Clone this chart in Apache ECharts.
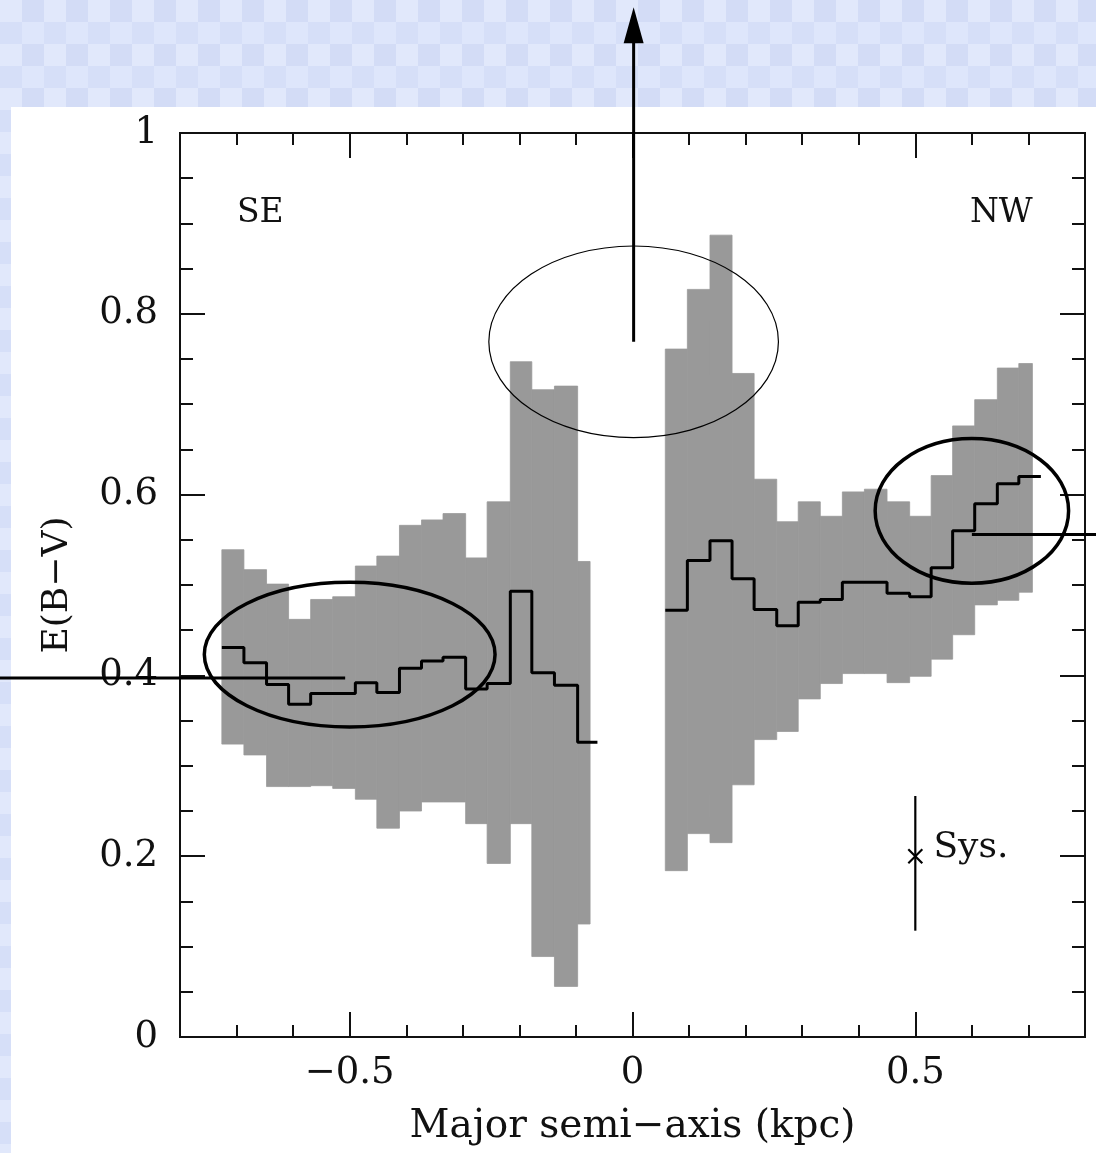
<!DOCTYPE html>
<html>
<head>
<meta charset="utf-8">
<script src="https://cdn.jsdelivr.net/npm/echarts@6/dist/echarts.min.js"></script>
<style>
  html, body { margin: 0; padding: 0; }
  #wrap { position: relative; width: 1096px; height: 1153px; overflow: hidden;
    background-color: #d8e1f8;
    background-image: conic-gradient(#d3dcf6 25%, #dee6fb 0 50%, #d6dff8 0 75%, #e1e8fb 0);
    background-size: 44px 44px; }
  #panel { position: absolute; left: 11px; top: 107px; width: 1085px; height: 1046px; background: #ffffff; }
  #chart { position: absolute; left: 0; top: 0; width: 1096px; height: 1153px; }
</style>
</head>
<body>
<div id="wrap"><div id="panel"></div><div id="chart"></div></div>
<script>
// ---- Data ----
// SE side (negative semi-axis): bin edges in kpc
const leftEdges = [-0.726, -0.687, -0.647, -0.608, -0.569, -0.530, -0.490, -0.452, -0.412, -0.373, -0.335, -0.295, -0.257, -0.216, -0.178, -0.138, -0.097, -0.062];
const leftBandEnd = -0.075;
const leftUpper = [0.539, 0.517, 0.501, 0.462, 0.484, 0.487, 0.521, 0.532, 0.566, 0.572, 0.579, 0.530, 0.592, 0.747, 0.716, 0.720, 0.526];
const leftLower = [0.324, 0.312, 0.277, 0.277, 0.278, 0.275, 0.263, 0.231, 0.250, 0.260, 0.260, 0.236, 0.192, 0.236, 0.089, 0.056, 0.125];
const leftMean  = [0.431, 0.414, 0.390, 0.368, 0.380, 0.380, 0.392, 0.381, 0.408, 0.416, 0.420, 0.385, 0.391, 0.493, 0.403, 0.389, 0.326];

// NW side (positive semi-axis)
const rightEdges = [0.058, 0.097, 0.137, 0.176, 0.215, 0.255, 0.293, 0.332, 0.371, 0.410, 0.450, 0.490, 0.528, 0.566, 0.605, 0.645, 0.683, 0.722];
const rightBandEnd = 0.707;
const rightUpper = [0.761, 0.827, 0.887, 0.734, 0.617, 0.570, 0.592, 0.576, 0.603, 0.606, 0.592, 0.576, 0.621, 0.676, 0.705, 0.740, 0.745];
const rightLower = [0.184, 0.225, 0.215, 0.279, 0.329, 0.338, 0.374, 0.391, 0.402, 0.402, 0.392, 0.399, 0.418, 0.445, 0.478, 0.483, 0.492];
const rightMean  = [0.472, 0.527, 0.549, 0.507, 0.473, 0.455, 0.481, 0.484, 0.503, 0.503, 0.491, 0.487, 0.519, 0.560, 0.590, 0.612, 0.620];

// Axis ticks
const xMajorTicks = [-0.5, 0, 0.5];
const xTickLabels = ['\u22120.5', '0', '0.5'];
const yTickLabels = ['0', '0.2', '0.4', '0.6', '0.8', '1'];

// Annotations: ellipses [cx, cy, rx, ry] (data units)
const annotEllipses = [[0.002, 0.769, 0.256, 0.106], [-0.5, 0.423, 0.257, 0.080], [0.600, 0.582, 0.171, 0.080]];
// pointer lines [x1, y1, x2, y2]
const pointerLines = [[0.002, 0.769, 0.002, 1.10], [-1.13, 0.397, -0.508, 0.397], [0.600, 0.556, 0.83, 0.556]];
const arrowTip = [0.002, 1.139];
// systematic error bar [x, y, low, high]
const sysBar = [0.5, 0.2, 0.1176, 0.2666];
// text labels
const textLabels = ['SE', 'NW', 'Sys.'];
const textPos = [[-0.658, 0.911], [0.652, 0.911], [0.532, 0.209]];

// ---- Build series data ----
function bandRows(edges, end, lo, hi) {
  const rows = [];
  for (let i = 0; i < lo.length; i++) {
    const x1 = (i === lo.length - 1) ? end : edges[i + 1];
    rows.push([edges[i], x1, lo[i], hi[i]]);
  }
  return rows;
}
function stepRows(edges, vals) {
  const rows = [];
  for (let i = 0; i < vals.length; i++) rows.push([edges[i], vals[i]]);
  rows.push([edges[vals.length], vals[vals.length - 1]]);
  return rows;
}
const bandData = bandRows(leftEdges, leftBandEnd, leftLower, leftUpper)
  .concat(bandRows(rightEdges, rightBandEnd, rightLower, rightUpper));

const FONT = 'DejaVu Serif';
const INK = '#111';
const GRAY = '#999999';

const chart = echarts.init(document.getElementById('chart'), null, { renderer: 'canvas' });

function xAxisDef(pos, major, showLabel) {
  const a = {
    type: 'value', position: pos, min: -0.8, max: 0.8, gridIndex: 0,
    axisLine: { show: true, onZero: false, lineStyle: { color: INK, width: 2 } },
    splitLine: { show: false },
    axisTick: { show: true, inside: true, length: major ? 25 : 12, lineStyle: { color: INK, width: 2 } },
    axisLabel: { show: false }
  };
  if (major) {
    a.axisTick.customValues = xMajorTicks;
    if (showLabel) {
      a.axisLabel = {
        show: true, customValues: xMajorTicks, margin: 18,
        fontFamily: FONT, fontSize: 37, color: INK,
        formatter: function (v) { const i = xMajorTicks.indexOf(v); return i >= 0 ? xTickLabels[i] : ''; }
      };
      a.name = 'Major semi\u2212axis (kpc)';
      a.nameLocation = 'middle';
      a.nameGap = 70;
      a.nameTextStyle = { fontFamily: FONT, fontSize: 39, color: INK, verticalAlign: 'top' };
    }
  } else {
    a.interval = 0.1;
  }
  return a;
}
function yAxisDef(pos, major, showLabel) {
  const a = {
    type: 'value', position: pos, min: 0, max: 1, gridIndex: 0,
    interval: major ? 0.2 : 0.05,
    axisLine: { show: true, onZero: false, lineStyle: { color: INK, width: 2 } },
    splitLine: { show: false },
    axisTick: { show: true, inside: true, length: major ? 25 : 13, lineStyle: { color: INK, width: 2 } },
    axisLabel: { show: false }
  };
  if (showLabel) {
    a.axisLabel = {
      show: true, margin: 22, fontFamily: FONT, fontSize: 37, color: INK,
      formatter: function (v) { return yTickLabels[Math.round(v * 5)]; }
    };
    a.name = 'E(B\u2212V)';
    a.nameLocation = 'middle';
    a.nameGap = 104;
    a.nameRotate = 90;
    a.nameTextStyle = { fontFamily: FONT, fontSize: 36, color: INK };
  }
  return a;
}

const option = {
  backgroundColor: 'transparent',
  animation: false,
  grid: { left: 180, top: 133, width: 905, height: 904, containLabel: false },
  xAxis: [xAxisDef('bottom', true, true), xAxisDef('bottom', false), xAxisDef('top', true, false), xAxisDef('top', false)],
  yAxis: [yAxisDef('left', true, true), yAxisDef('left', false), yAxisDef('right', true, false), yAxisDef('right', false)],
  series: [
    {
      type: 'custom', name: 'band', xAxisIndex: 0, yAxisIndex: 0, z: 2,
      data: bandData, encode: { x: [0, 1], y: [2, 3] },
      renderItem: function (params, api) {
        const p0 = api.coord([api.value(0), api.value(3)]);
        const p1 = api.coord([api.value(1), api.value(2)]);
        return { type: 'rect', shape: { x: p0[0], y: p0[1], width: p1[0] - p0[0], height: p1[1] - p0[1] },
          style: { fill: GRAY, stroke: GRAY, lineWidth: 0.8 } };
      }
    },
    {
      type: 'line', name: 'SE mean', xAxisIndex: 0, yAxisIndex: 0, z: 3, step: 'end',
      data: stepRows(leftEdges, leftMean), showSymbol: false,
      lineStyle: { color: '#000', width: 3 }
    },
    {
      type: 'line', name: 'NW mean', xAxisIndex: 0, yAxisIndex: 0, z: 3, step: 'end',
      data: stepRows(rightEdges, rightMean), showSymbol: false,
      lineStyle: { color: '#000', width: 3 }
    },
    {
      type: 'custom', name: 'ellipses', xAxisIndex: 0, yAxisIndex: 0, z: 5, clip: false,
      data: annotEllipses, encode: { x: 0, y: 1 },
      renderItem: function (params, api) {
        const c = api.coord([api.value(0), api.value(1)]);
        const s = api.size([api.value(2), api.value(3)]);
        return { type: 'ellipse', shape: { cx: c[0], cy: c[1], rx: s[0], ry: s[1] },
          style: { fill: null, stroke: '#000', lineWidth: params.dataIndex === 0 ? 1.2 : 3.5 } };
      }
    },
    {
      type: 'custom', name: 'pointers', xAxisIndex: 0, yAxisIndex: 0, z: 5, clip: false,
      data: pointerLines, encode: { x: [0, 2], y: [1, 3] },
      renderItem: function (params, api) {
        const a = api.coord([api.value(0), api.value(1)]);
        const b = api.coord([api.value(2), api.value(3)]);
        return { type: 'line', shape: { x1: a[0], y1: a[1], x2: b[0], y2: b[1] },
          style: { stroke: '#000', lineWidth: 3 } };
      }
    },
    {
      type: 'custom', name: 'arrowhead', xAxisIndex: 0, yAxisIndex: 0, z: 5, clip: false,
      data: [arrowTip], encode: { x: 0, y: 1 },
      renderItem: function (params, api) {
        const t = api.coord([api.value(0), api.value(1)]);
        return { type: 'polygon', shape: { points: [[t[0], t[1]], [t[0] - 10, t[1] + 36], [t[0] + 10, t[1] + 36]] },
          style: { fill: '#000' } };
      }
    },
    {
      type: 'custom', name: 'sys', xAxisIndex: 0, yAxisIndex: 0, z: 5, clip: false,
      data: [sysBar], encode: { x: 0, y: [1, 2, 3] },
      renderItem: function (params, api) {
        const c = api.coord([api.value(0), api.value(1)]);
        const lo = api.coord([api.value(0), api.value(2)]);
        const hi = api.coord([api.value(0), api.value(3)]);
        const r = 7;
        return { type: 'group', children: [
          { type: 'line', shape: { x1: lo[0], y1: lo[1], x2: hi[0], y2: hi[1] }, style: { stroke: '#000', lineWidth: 2.2 } },
          { type: 'line', shape: { x1: c[0] - r, y1: c[1] - r, x2: c[0] + r, y2: c[1] + r }, style: { stroke: '#000', lineWidth: 2.2 } },
          { type: 'line', shape: { x1: c[0] - r, y1: c[1] + r, x2: c[0] + r, y2: c[1] - r }, style: { stroke: '#000', lineWidth: 2.2 } }
        ] };
      }
    },
    {
      type: 'custom', name: 'labels', xAxisIndex: 0, yAxisIndex: 0, z: 6, clip: false,
      data: textPos, encode: { x: 0, y: 1 },
      renderItem: function (params, api) {
        const p = api.coord([api.value(0), api.value(1)]);
        const i = params.dataIndex;
        const isSys = i === 2;
        return { type: 'text', x: p[0], y: p[1],
          style: { text: textLabels[i], fontFamily: FONT, fontSize: isSys ? 36 : 33, fill: INK,
            align: isSys ? 'left' : 'center', verticalAlign: 'middle' } };
      }
    }
  ]
};
chart.setOption(option);
</script>
</body>
</html>
